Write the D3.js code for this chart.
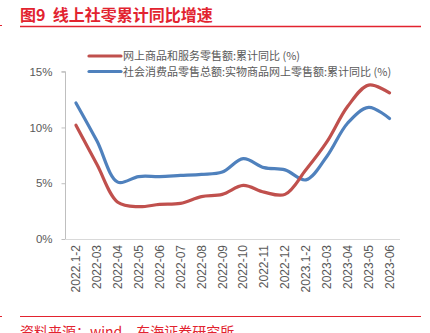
<!DOCTYPE html>
<html><head><meta charset="utf-8">
<script src="https://cdn.jsdelivr.net/npm/d3@7"></script>
<style>
html,body{margin:0;padding:0;background:#fff;}
svg{display:block;}
</style></head>
<body>
<svg id="chart" width="430" height="333"></svg>
<script>
const categories = ["2022.1-2","2022-03","2022-04","2022-05","2022-06","2022-07","2022-08","2022-09","2022-10","2022-11","2022-12","2023.1-2","2023-03","2023-04","2023-05","2023-06"];
const onlineRetail = [10.2,6.7,3.3,2.9,3.1,3.2,3.8,4.0,4.8,4.2,4.0,6.2,8.7,11.9,13.8,13.1];
const physicalOnline = [12.2,8.8,5.1,5.6,5.6,5.7,5.8,6.0,7.2,6.4,6.2,5.3,7.4,10.4,11.8,10.8];
const seriesNames = ["网上商品和服务零售额:累计同比 (%)","社会消费品零售总额:实物商品网上零售额:累计同比 (%)"];
const yTicks = [0,5,10,15];
const titleText = "图9  线上社零累计同比增速";
const sourceText = "资料来源：wind，东海证券研究所";

const svg = d3.select("#chart");
const red = "#E2232F";
const font = "'Liberation Sans','Noto Sans CJK SC',Arial,sans-serif";
const cjk = "'Noto Sans CJK SC','Liberation Sans',sans-serif";

// header
svg.append("text").attr("x",20).attr("y",20.5).attr("fill",red)
  .attr("font-family",cjk).attr("font-weight","bold").attr("font-size",16)
  .attr("xml:space","preserve").style("white-space","pre").text(titleText);
svg.append("line").attr("x1",20).attr("x2",421).attr("y1",26.5).attr("y2",26.5)
  .attr("stroke",red).attr("stroke-width",1.6);
svg.append("line").attr("x1",0).attr("x2",2).attr("y1",25.5).attr("y2",25.5).attr("stroke",red).attr("stroke-width",1);
svg.append("line").attr("x1",20).attr("x2",421).attr("y1",316.5).attr("y2",316.5)
  .attr("stroke",red).attr("stroke-width",1);
svg.append("line").attr("x1",0).attr("x2",2).attr("y1",316.5).attr("y2",316.5).attr("stroke",red).attr("stroke-width",1);
svg.append("text").attr("x",20).attr("y",337).attr("fill",red)
  .attr("font-family",cjk).attr("font-size",14).text(sourceText);

// scales
const x = d3.scaleBand().domain(categories).range([65.5,400]);
const y = d3.scaleLinear().domain([0,15]).range([239,71.7]);
const cx = d => x(d) + x.bandwidth()/2;

// y axis
const yAxis = svg.append("g").attr("transform","translate(65.5,0)")
  .call(d3.axisLeft(y).tickValues(yTicks).tickSize(4).tickPadding(9).tickFormat(d=>d+"%"));
yAxis.select(".domain").attr("stroke","#BFBFBF").attr("d","M-4,"+y(15)+"H0V"+y(0));
yAxis.selectAll(".tick line").attr("stroke","#BFBFBF");
yAxis.selectAll(".tick text").attr("fill","#595959").attr("font-family",font).attr("font-size",11.5);

// x axis
const xAxis = svg.append("g").attr("transform","translate(0,239)")
  .call(d3.axisBottom(x).tickSize(0).tickPadding(6));
xAxis.select(".domain").attr("stroke","#D9D9D9").attr("d","M65.5,0.5H400");
xAxis.selectAll(".tick text").attr("fill","#595959").attr("font-family",font).attr("font-size",12)
  .attr("text-anchor","end").attr("dy","0.35em")
  .attr("transform","translate(0,6) rotate(-90)").attr("x",0).attr("y",0);

// lines
const line = d3.line().x((d,i)=>cx(categories[i])).y(d=>y(d)).curve(d3.curveCatmullRom.alpha(0.5));
const series = [
  {name:seriesNames[0], values:onlineRetail, color:"#C0504D"},
  {name:seriesNames[1], values:physicalOnline, color:"#4F81BD"}
];
// draw blue first then red on top? reference: red crosses; draw blue first
svg.append("path").datum(physicalOnline).attr("d",line).attr("fill","none")
  .attr("stroke","#4F81BD").attr("stroke-width",3.2).attr("stroke-linejoin","round").attr("stroke-linecap","round");
svg.append("path").datum(onlineRetail).attr("d",line).attr("fill","none")
  .attr("stroke","#C0504D").attr("stroke-width",3.2).attr("stroke-linejoin","round").attr("stroke-linecap","round");

// legend
const lg = svg.append("g");
series.forEach((s,i)=>{
  const yy = 56 + i*15.5;
  lg.append("line").attr("x1",89).attr("x2",121).attr("y1",yy).attr("y2",yy)
    .attr("stroke",s.color).attr("stroke-width",3.2).attr("stroke-linecap","round");
  lg.append("text").attr("x",123).attr("y",yy+4).attr("fill","#595959")
    .attr("font-family",cjk).attr("font-size",11).text(s.name);
});
</script>
</body></html>
